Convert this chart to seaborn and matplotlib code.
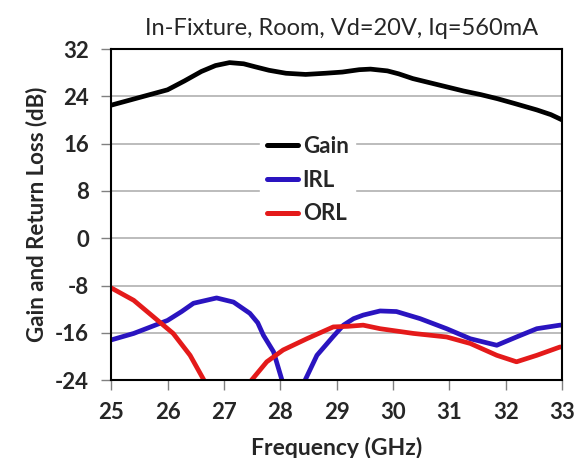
import matplotlib
matplotlib.use("Agg")
import matplotlib.pyplot as plt
import seaborn as sns
import pandas as pd

gain_freq = [25.0, 25.5, 26.0, 26.3, 26.6, 26.85, 27.1, 27.35, 27.55, 27.8, 28.1, 28.45, 28.8, 29.1, 29.4, 29.6, 29.9, 30.1, 30.35, 30.65, 30.95, 31.25, 31.55, 31.85, 32.15, 32.55, 32.8, 33.0]
gain_db = [22.5, 23.8, 25.1, 26.6, 28.2, 29.2, 29.7, 29.5, 29.0, 28.4, 27.9, 27.7, 27.9, 28.1, 28.5, 28.6, 28.3, 27.8, 27.0, 26.3, 25.6, 24.9, 24.3, 23.6, 22.8, 21.7, 20.9, 20.0]

irl_freq = [25.0, 25.4, 25.7, 26.0, 26.25, 26.46, 26.87, 27.17, 27.46, 27.6, 27.7, 27.88, 28.03, 28.25, 28.44, 28.65, 28.94, 29.12, 29.3, 29.47, 29.77, 30.06, 30.48, 30.95, 31.37, 31.84, 32.19, 32.55, 32.96, 33.0]
irl_db = [-17.2, -16.1, -15.0, -13.9, -12.4, -11.0, -10.1, -10.8, -12.7, -14.3, -16.4, -19.2, -24.0, -30.0, -24.0, -19.8, -16.6, -14.7, -13.6, -13.0, -12.3, -12.4, -13.6, -15.3, -17.0, -18.1, -16.7, -15.3, -14.7, -14.7]

orl_freq = [25.0, 25.4, 25.75, 26.1, 26.4, 26.64, 27.05, 27.49, 27.76, 28.05, 28.47, 28.94, 29.2, 29.47, 29.77, 30.36, 30.95, 31.37, 31.84, 32.19, 32.55, 32.96, 33.0]
orl_db = [-8.4, -10.5, -13.3, -16.1, -19.8, -23.9, -32.0, -24.0, -20.9, -18.9, -17.0, -15.0, -14.9, -14.7, -15.3, -16.1, -16.7, -17.8, -19.8, -20.9, -19.8, -18.4, -18.4]

y_ticks = [-24, -16, -8, 0, 8, 16, 24, 32]
x_ticks = [25, 26, 27, 28, 29, 30, 31, 32, 33]

df = pd.concat([
    pd.DataFrame({"Frequency": gain_freq, "dB": gain_db, "Series": "Gain"}),
    pd.DataFrame({"Frequency": irl_freq, "dB": irl_db, "Series": "IRL"}),
    pd.DataFrame({"Frequency": orl_freq, "dB": orl_db, "Series": "ORL"}),
], ignore_index=True)

sns.set_style("white")
plt.rcParams['font.family'] = ['Lato', 'DejaVu Sans']

fig = plt.figure(figsize=(5.76, 4.58), dpi=100)
ax = fig.add_axes([0.193, 0.170, 0.783, 0.723])

palette = {"Gain": "#000000", "IRL": "#2a14c0", "ORL": "#e41a1a"}
sns.lineplot(data=df, x="Frequency", y="dB", hue="Series", palette=palette,
             linewidth=3.4, ax=ax, sort=False, estimator=None)

ax.set_xlim(25, 33)
ax.set_ylim(-24, 32)
ax.set_xticks(x_ticks)
ax.set_yticks(y_ticks)
ax.set_xticklabels([str(t) for t in x_ticks], fontsize=16, fontweight='bold')
ax.set_yticklabels([str(t) for t in y_ticks], fontsize=16, fontweight='bold')
ax.yaxis.grid(True, color='#b0b0b0', linewidth=1.2)
ax.xaxis.grid(False)
ax.set_axisbelow(True)
for s in ax.spines.values():
    s.set_color('black')
    s.set_linewidth(1.5)
ax.tick_params(axis='both', direction='out', length=7, width=1, color='#808080', bottom=True, left=True)
ax.tick_params(axis='x', pad=9)
ax.tick_params(axis='y', pad=9)

ax.set_xlabel("Frequency (GHz)", fontsize=16.5, fontweight='bold')
ax.set_ylabel("Gain and Return Loss (dB)", fontsize=16, fontweight='bold')
ax.xaxis.set_label_coords(0.5, -0.172)
ax.yaxis.set_label_coords(-0.142, 0.5)
ax.set_title("In-Fixture, Room, Vd=20V, Iq=560mA", fontsize=17, pad=10, x=0.51)

leg = ax.legend(loc='center', bbox_to_anchor=(0.436, 0.604), frameon=True, fontsize=16,
                handlelength=1.4, handletextpad=0.2, labelspacing=0.57, borderpad=0.3)
leg.get_frame().set_facecolor('white')
leg.get_frame().set_edgecolor('white')
leg.get_frame().set_alpha(1)
for t in leg.get_texts():
    t.set_fontweight('bold')
for l in leg.get_lines():
    l.set_linewidth(3.6)

fig.savefig("out.png", dpi=100)
